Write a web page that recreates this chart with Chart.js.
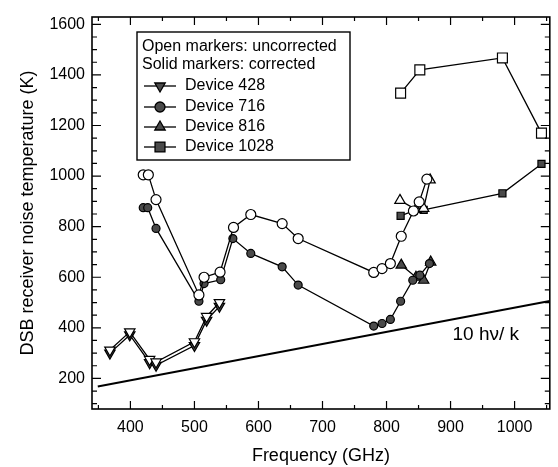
<!DOCTYPE html>
<html><head><meta charset="utf-8">
<script src="https://cdn.jsdelivr.net/npm/chart.js@4/dist/chart.umd.min.js"></script>
<style>html,body{margin:0;padding:0;background:#fff}#wrap{width:558px;height:467px}</style>
</head><body><div id="wrap"><canvas id="c" width="558" height="467"></canvas></div>
<script>
// ---- data ----
const xTickLabels = [400, 500, 600, 700, 800, 900, 1000];
const yTickLabels = [200, 400, 600, 800, 1000, 1200, 1400, 1600];

const dev428OpenFreq  = [368, 399, 430, 440, 500, 519, 539];
const dev428OpenTemp  = [312, 384, 275, 265, 345, 445, 500];
const dev428SolidFreq = [368, 399, 430, 440, 500, 519, 539];
const dev428SolidTemp = [300, 372, 262, 252, 330, 430, 485];

const dev716OpenFreq  = [420, 428, 440, 507, 515, 540, 561, 588, 637, 662, 780, 793, 806, 823, 842, 851, 863];
const dev716OpenTemp  = [1005, 1005, 907, 530, 600, 620, 797, 848, 812, 753, 619, 634, 654, 762, 862, 898, 988];
const dev716SolidFreq = [420, 427, 440, 507, 515, 541, 560, 588, 637, 662, 780, 793, 806, 822, 841, 852, 867];
const dev716SolidTemp = [875, 875, 793, 505, 575, 590, 753, 694, 641, 569, 407, 417, 433, 505, 588, 608, 654];

const dev816OpenFreq  = [821, 846, 858, 868];
const dev816OpenTemp  = [904, 868, 872, 985];
const dev816SolidFreq = [823, 846, 858, 869];
const dev816SolidTemp = [648, 600, 588, 660];

const dev1028OpenFreq  = [822, 852, 981, 1042];
const dev1028OpenTemp  = [1328, 1420, 1467, 1170];
const dev1028SolidFreq = [822, 842, 858, 981, 1042];
const dev1028SolidTemp = [843, 862, 866, 932, 1048];

const quantumLimitFreq = [349, 1055];
const quantumLimitTemp = [168, 506];

const legendLines = ['Open markers: uncorrected', 'Solid markers: corrected'];
const deviceNames = ['Device 428', 'Device 716', 'Device 816', 'Device 1028'];
const limitLabel = '10 h\u03bd/ k';
const xTitle = 'Frequency (GHz)';
const yTitle = 'DSB receiver noise temperature (K)';

// ---- build ----
const pts = (xs, ys) => xs.map((x, i) => ({x, y: ys[i]}));
const FONT = 'Liberation Sans, Arial, sans-serif';
const SOLID = '#4a4a4a';

function ds(label, xs, ys, style, rot, solid, r) {
  return {
    label, data: pts(xs, ys), showLine: true,
    borderColor: '#000', borderWidth: 1.3,
    pointStyle: style, rotation: rot, pointRadius: r, pointHoverRadius: r,
    pointBackgroundColor: solid ? SOLID : '#fff', pointBorderColor: '#000', pointBorderWidth: 1.2,
    backgroundColor: solid ? SOLID : '#fff'
  };
}

const datasets = [
  {label: 'limit', data: pts(quantumLimitFreq, quantumLimitTemp), showLine: true, borderColor: '#000', borderWidth: 2, pointRadius: 0},
  ds('428 open', dev428OpenFreq, dev428OpenTemp, 'triangle', 180, false, 6),
  ds('428 solid', dev428SolidFreq, dev428SolidTemp, 'triangle', 180, true, 6),
  ds('716 open', dev716OpenFreq, dev716OpenTemp, 'circle', 0, false, 5),
  ds('716 solid', dev716SolidFreq, dev716SolidTemp, 'circle', 0, true, 4),
  ds('816 open', dev816OpenFreq, dev816OpenTemp, 'triangle', 0, false, 6),
  ds('816 solid', dev816SolidFreq, dev816SolidTemp, 'triangle', 0, true, 6),
  ds('1028 open', dev1028OpenFreq, dev1028OpenTemp, 'rect', 0, false, 7),
  ds('1028 solid', dev1028SolidFreq, dev1028SolidTemp, 'rect', 0, true, 5)
];

const framePlugin = {
  id: 'frame',
  afterDatasetsDraw(chart) {
    const {ctx, chartArea: a, scales: {x, y}} = chart;
    ctx.save();
    ctx.strokeStyle = '#000';
    ctx.lineWidth = 1.6;
    ctx.strokeRect(a.left, a.top, a.right - a.left, a.bottom - a.top);
    ctx.lineWidth = 1.2;
    ctx.beginPath();
    for (let v = 350; v <= 1050; v += 50) {
      const px = x.getPixelForValue(v);
      const L = v % 100 === 0 ? 8 : 4;
      ctx.moveTo(px, a.bottom); ctx.lineTo(px, a.bottom - L);
      ctx.moveTo(px, a.top); ctx.lineTo(px, a.top + L);
    }
    for (let v = 100; v <= 1600; v += 50) {
      const py = y.getPixelForValue(v);
      const L = v % 200 === 0 ? 9 : 5;
      ctx.moveTo(a.left, py); ctx.lineTo(a.left + L, py);
      ctx.moveTo(a.right, py); ctx.lineTo(a.right - L, py);
    }
    ctx.stroke();

    // annotation text for the limit line
    ctx.fillStyle = '#000';
    ctx.font = '19px ' + FONT;
    ctx.textBaseline = 'middle';
    ctx.textAlign = 'left';
    ctx.fillText(limitLabel, x.getPixelForValue(903), y.getPixelForValue(371));

    // legend box
    const bx = 137, by = 32, bw = 213, bh = 128;
    ctx.lineWidth = 1.4;
    ctx.fillStyle = '#fff';
    ctx.fillRect(bx, by, bw, bh);
    ctx.strokeRect(bx, by, bw, bh);
    ctx.fillStyle = '#000';
    ctx.font = '16px ' + FONT;
    ctx.fillText(legendLines[0], 142, 47);
    ctx.fillText(legendLines[1], 142, 65);
    const rows = [86, 107, 127, 147];
    const styles = [['triangle', 180, 6], ['circle', 0, 5], ['triangle', 0, 6], ['rect', 0, 7]];
    rows.forEach((ry, i) => {
      ctx.strokeStyle = '#000';
      ctx.lineWidth = 1.3;
      ctx.beginPath(); ctx.moveTo(144, ry); ctx.lineTo(176, ry); ctx.stroke();
      ctx.fillStyle = SOLID;
      Chart.helpers.drawPoint(ctx, {pointStyle: styles[i][0], rotation: styles[i][1], radius: styles[i][2], borderWidth: 1.2}, 160, ry);
      ctx.fillStyle = '#000';
      ctx.fillText(deviceNames[i], 185, ry);
    });
    ctx.restore();
  }
};

new Chart(document.getElementById('c'), {
  type: 'scatter',
  data: {datasets},
  plugins: [framePlugin],
  options: {
    responsive: false, devicePixelRatio: 1, animation: false,
    layout: {padding: {top: 17, right: 3, left: 0, bottom: 0}},
    plugins: {legend: {display: false}, tooltip: {enabled: false}},
    scales: {
      x: {
        type: 'linear', min: 340, max: 1055,
        afterBuildTicks: s => { s.ticks = xTickLabels.map(v => ({value: v})); },
        afterFit: s => { s.height = 58; },
        grid: {display: false, drawTicks: false}, border: {display: false},
        ticks: {color: '#000', font: {family: FONT, size: 16}, padding: 9, maxRotation: 0, autoSkip: false,
                callback: v => String(v)},
        title: {display: true, text: xTitle, color: '#000', font: {family: FONT, size: 18}, padding: {top: 0, bottom: 0}}
      },
      y: {
        type: 'linear', min: 79, max: 1629,
        afterBuildTicks: s => { s.ticks = yTickLabels.map(v => ({value: v})); },
        afterFit: s => { s.width = 92; },
        grid: {display: false, drawTicks: false}, border: {display: false},
        ticks: {color: '#000', font: {family: FONT, size: 16}, padding: 7, autoSkip: false,
                callback: v => String(v)},
        title: {display: true, text: yTitle, color: '#000', font: {family: FONT, size: 18}, padding: {top: 17, bottom: 0}}
      }
    }
  }
});
</script></body></html>
